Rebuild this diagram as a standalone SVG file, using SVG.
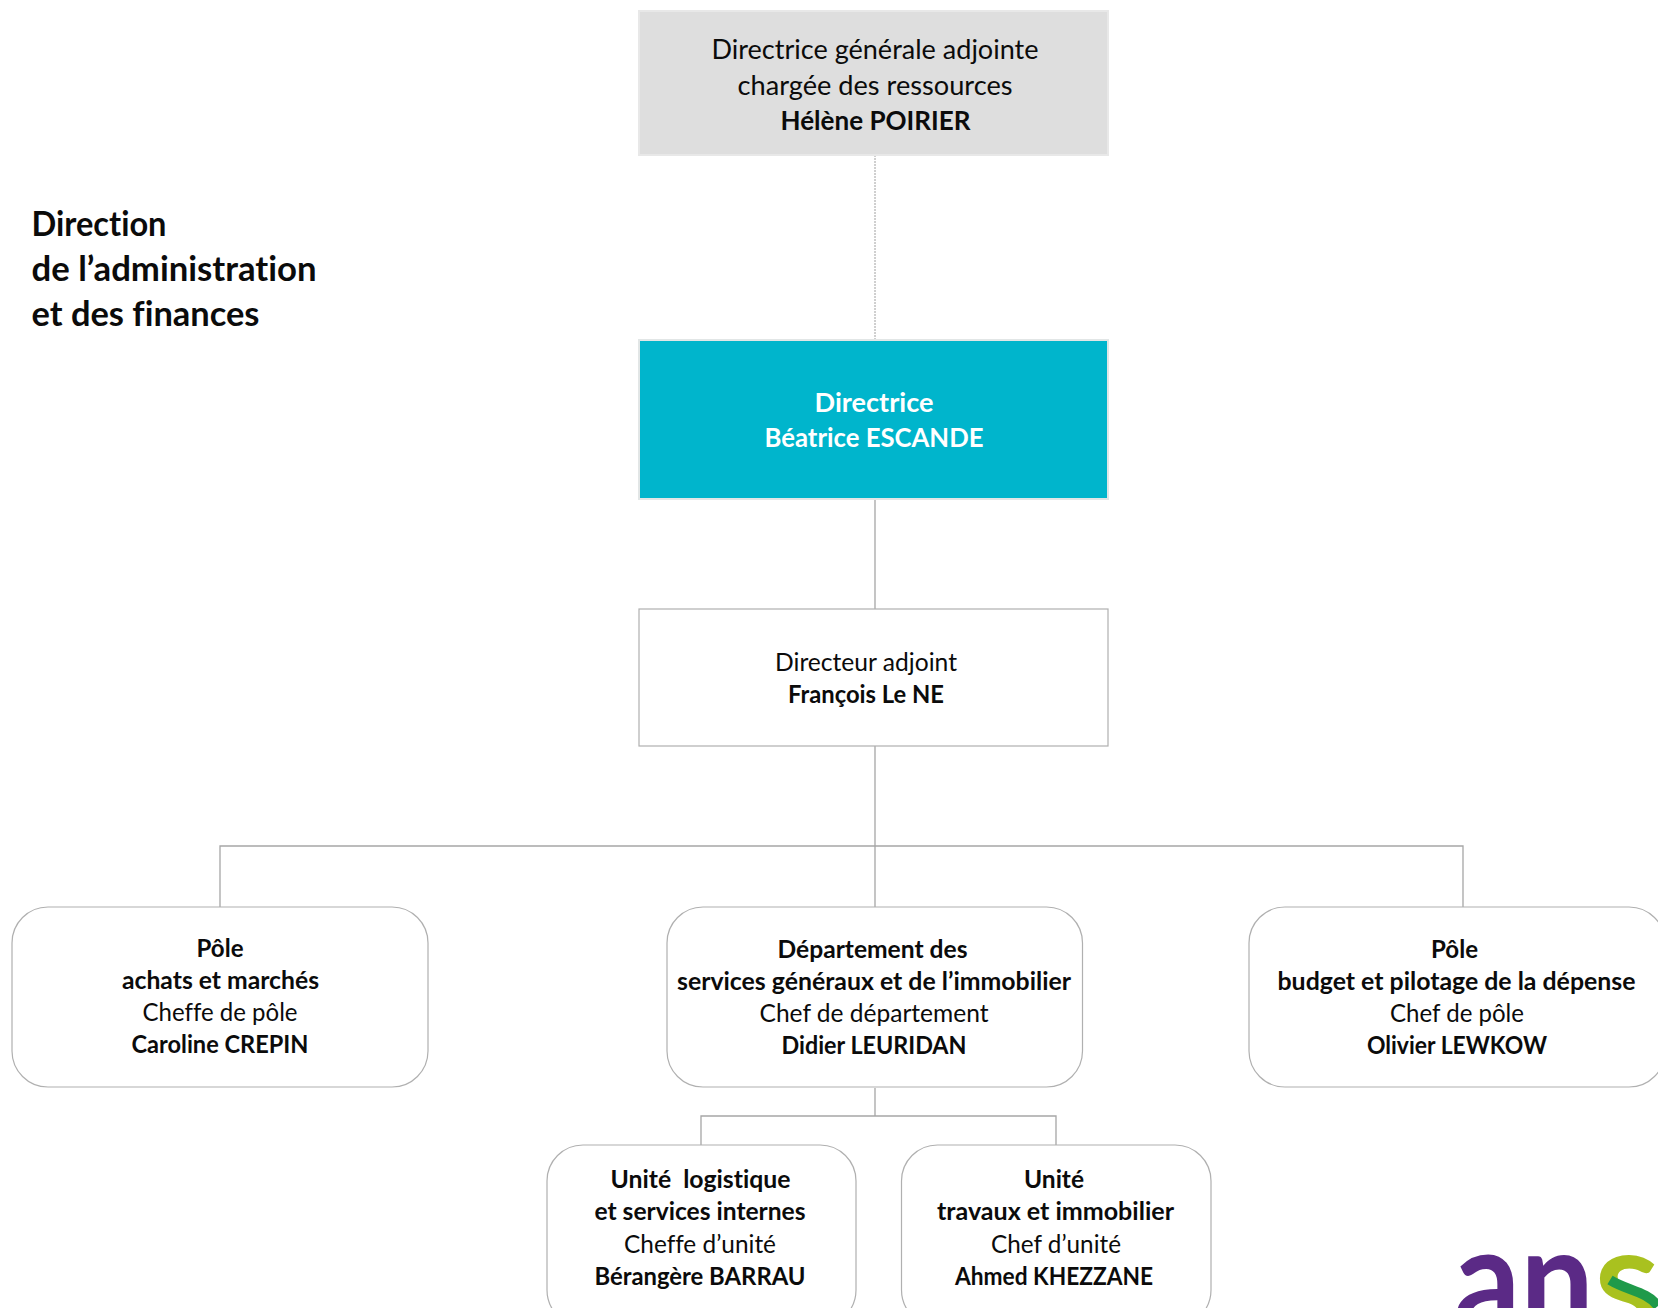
<svg xmlns="http://www.w3.org/2000/svg" width="1658" height="1308" viewBox="0 0 1658 1308">
<style>
text{font-family:Lato,"Liberation Sans",sans-serif;fill:#0b0b0b;text-anchor:middle;font-size:27px;font-variant-ligatures:none}
.b{font-weight:700}
.s{font-size:25px}
.w{fill:#fff;font-weight:700}
.t{font-size:34px;font-weight:700;text-anchor:start}
.c{fill:none;stroke:#a6a6a6;stroke-width:1.3}
.r{fill:#fff;stroke:#b0b0b0;stroke-width:1.2}
.l{font-size:150px;font-weight:700;text-anchor:start}
</style>
<rect width="1658" height="1308" fill="#fff"/>
<g id="connectors">
<path d="M875 155V340" fill="none" stroke="#a0a0a0" stroke-width="1" stroke-dasharray="2 1"/>
<path class="c" d="M875 498V609M875 746V907M220 907V846H1463V907M875 1088V1116M701 1145V1116H1056V1145"/>
</g>
<g id="title"><text class="t" x="31.500" y="236" textLength="135" lengthAdjust="spacingAndGlyphs">Direction</text><text class="t" x="31.500" y="281" textLength="285" lengthAdjust="spacingAndGlyphs">de l’administration</text><text class="t" x="31.500" y="326" textLength="228" lengthAdjust="spacingAndGlyphs">et des finances</text></g>
<g id="dga"><rect x="639" y="11" width="469" height="144" fill="#dedede" stroke="#e8e8e8" stroke-width="2"/><text x="875" y="59" textLength="327" lengthAdjust="spacingAndGlyphs">Directrice générale adjointe</text><text x="875" y="95" textLength="275" lengthAdjust="spacingAndGlyphs">chargée des ressources</text><text class="b" x="875.500" y="130" textLength="190" lengthAdjust="spacingAndGlyphs">Hélène POIRIER</text></g>
<g id="directrice"><rect x="639" y="340" width="469" height="159" fill="#00b5cc" stroke="#e2e6e6" stroke-width="2"/><text class="w" x="874" y="412" textLength="119" lengthAdjust="spacingAndGlyphs">Directrice</text><text class="w" x="874" y="447" textLength="219" lengthAdjust="spacingAndGlyphs">Béatrice ESCANDE</text></g>
<g id="adjoint"><rect class="r" x="639" y="609" width="469" height="137"/><text class="s" x="866" y="671" textLength="182" lengthAdjust="spacingAndGlyphs">Directeur adjoint</text><text class="s b" x="866" y="703" textLength="156" lengthAdjust="spacingAndGlyphs">François Le NE</text></g>
<g id="achats"><rect class="r" x="12" y="907" width="416" height="180" rx="36"/><text class="s b" x="220" y="956.500" textLength="47" lengthAdjust="spacingAndGlyphs">Pôle</text><text class="s b" x="220.500" y="988.500" textLength="197" lengthAdjust="spacingAndGlyphs">achats et marchés</text><text class="s" x="220" y="1020.500" textLength="155" lengthAdjust="spacingAndGlyphs">Cheffe de pôle</text><text class="s b" x="220" y="1052.500" textLength="177" lengthAdjust="spacingAndGlyphs">Caroline CREPIN</text></g>
<g id="dsgi"><rect class="r" x="667" y="907" width="415.500" height="180" rx="36"/><text class="s b" x="872.500" y="957.500" textLength="190" lengthAdjust="spacingAndGlyphs">Département des</text><text class="s b" x="874" y="989.500" textLength="394" lengthAdjust="spacingAndGlyphs">services généraux et de l’immobilier</text><text class="s" x="874" y="1021.500" textLength="229" lengthAdjust="spacingAndGlyphs">Chef de département</text><text class="s b" x="874" y="1053.500" textLength="185" lengthAdjust="spacingAndGlyphs">Didier LEURIDAN</text></g>
<g id="budget"><rect class="r" x="1249" y="907" width="416" height="180" rx="36"/><text class="s b" x="1454.500" y="957.500" textLength="47" lengthAdjust="spacingAndGlyphs">Pôle</text><text class="s b" x="1456.500" y="989.500" textLength="358" lengthAdjust="spacingAndGlyphs">budget et pilotage de la dépense</text><text class="s" x="1457" y="1021.500" textLength="134" lengthAdjust="spacingAndGlyphs">Chef de pôle</text><text class="s b" x="1457" y="1053.500" textLength="180" lengthAdjust="spacingAndGlyphs">Olivier LEWKOW</text></g>
<g id="logistique"><rect class="r" x="547" y="1145" width="309" height="181" rx="36"/><text class="s b" x="700.500" y="1188" textLength="180" lengthAdjust="spacingAndGlyphs" xml:space="preserve">Unité  logistique</text><text class="s b" x="700" y="1220" textLength="211" lengthAdjust="spacingAndGlyphs">et services internes</text><text class="s" x="700" y="1252.500" textLength="152" lengthAdjust="spacingAndGlyphs">Cheffe d’unité</text><text class="s b" x="700" y="1285" textLength="211" lengthAdjust="spacingAndGlyphs">Bérangère BARRAU</text></g>
<g id="travaux"><rect class="r" x="901.500" y="1145" width="309.500" height="181" rx="36"/><text class="s b" x="1054" y="1188" textLength="60" lengthAdjust="spacingAndGlyphs">Unité</text><text class="s b" x="1055.500" y="1220" textLength="237" lengthAdjust="spacingAndGlyphs">travaux et immobilier</text><text class="s" x="1056" y="1252.500" textLength="130" lengthAdjust="spacingAndGlyphs">Chef d’unité</text><text class="s b" x="1054" y="1285" textLength="198" lengthAdjust="spacingAndGlyphs">Ahmed KHEZZANE</text></g>
<g id="logo"><text class="l" x="1454" y="1333" textLength="140" lengthAdjust="spacingAndGlyphs" style="fill:#5b2a86">an</text><text class="l" x="1594" y="1333" style="fill:#a9c11f">s</text><path d="M1610 1280C1628 1291 1646 1291 1658 1306" fill="none" stroke="#1f9a4a" stroke-width="10"/></g>
</svg>
